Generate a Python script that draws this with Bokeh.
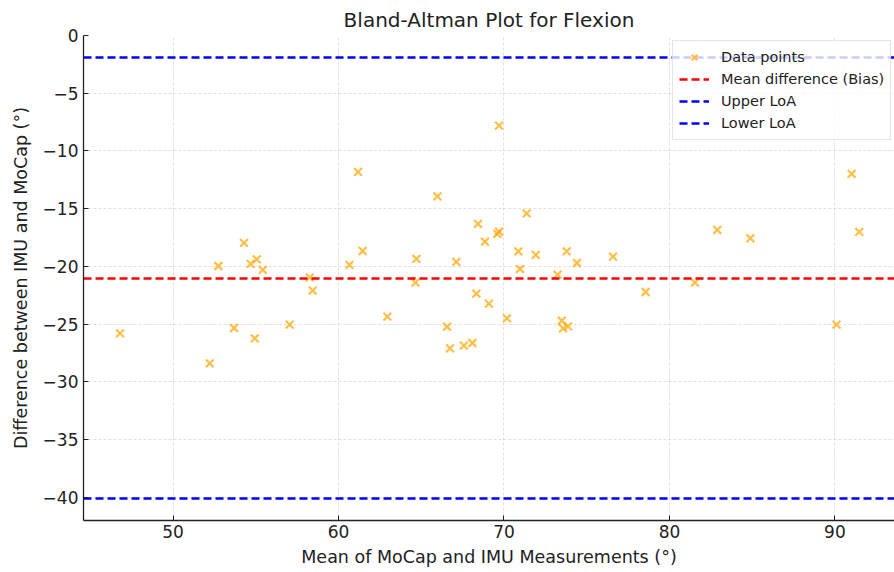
from bokeh.plotting import figure
from bokeh.models import ColumnDataSource, FixedTicker, Legend
from bokeh.core.properties import value
from bokeh.embed import file_html
from bokeh.resources import INLINE

# ---- data ----
mean_vals = [46.80, 52.22, 52.74, 53.69, 54.29, 54.69, 54.94, 55.06, 55.42, 57.05,
             58.26, 58.44, 60.66, 61.18, 61.46, 62.95, 64.71, 64.65, 65.98, 66.56,
             66.74, 67.12, 67.58, 68.09, 68.33, 68.43, 68.85, 69.09, 69.60, 69.70,
             69.70, 70.18, 70.87, 70.97, 71.37, 71.92, 73.24, 73.49, 73.57, 73.79,
             73.87, 74.41, 76.59, 78.56, 81.54, 82.89, 84.89, 90.10, 91.01, 91.47]
diff_vals = [-25.80, -28.40, -19.96, -25.33, -17.96, -19.78, -26.23, -19.38, -20.30, -25.04,
             -20.94, -22.10, -19.87, -11.81, -18.66, -24.35, -19.35, -21.40, -13.93, -25.22,
             -27.10, -19.61, -26.86, -26.63, -22.36, -16.32, -17.85, -23.22, -17.18, -16.98,
             -7.80, -24.50, -18.69, -20.22, -15.40, -19.00, -20.71, -24.70, -25.36, -18.69,
             -25.19, -19.70, -19.15, -22.21, -21.40, -16.84, -17.56, -25.04, -11.98, -17.01]
bias = -21.0
upper_loa = -1.9
lower_loa = -40.1

x_ticks = [50, 60, 70, 80, 90]
y_ticks = [0, -5, -10, -15, -20, -25, -30, -35, -40]
y_tick_labels = {t: ("0" if t == 0 else "\u2212" + str(abs(t))) for t in y_ticks}

FONT = "DejaVu Sans"
DASH = value("8 4")

p = figure(width=894, height=572, output_backend="svg", toolbar_location=None,
           x_range=(44.59, 93.6), y_range=(-42.0, 0.0),
           min_border_left=83, min_border_right=0, min_border_top=35, min_border_bottom=52,
           title="Bland-Altman Plot for Flexion")
p.outline_line_color = None
p.background_fill_color = "white"
p.border_fill_color = "white"

p.title.text_font = FONT
p.title.text_font_size = "20px"
p.title.text_font_style = "normal"
p.title.text_color = "#222222"
p.title.align = "center"
p.title.standoff = 7

src = ColumnDataSource(dict(x=mean_vals, y=diff_vals))
pts = p.scatter("x", "y", source=src, marker="x", size=11, line_width=2.2,
                line_color="orange", line_alpha=0.72)
r_bias = p.hspan(y=[bias], line_color="red", line_width=2.4, line_dash=DASH)
r_up = p.hspan(y=[upper_loa], line_color="blue", line_width=2.4, line_dash=DASH)
r_lo = p.hspan(y=[lower_loa], line_color="blue", line_width=2.4, line_dash=DASH)

legend = Legend(items=[("Data points", [pts]),
                       ("Mean difference (Bias)", [r_bias]),
                       ("Upper LoA", [r_up]),
                       ("Lower LoA", [r_lo])],
                location=(589, 380))
legend.label_text_font = FONT
legend.label_text_font_size = "14.5px"
legend.label_text_color = "#222222"
legend.glyph_width = 30
legend.glyph_height = 20
legend.label_height = 20
legend.label_standoff = 12
legend.spacing = 2
legend.padding = 6
legend.margin = 0
legend.border_line_color = "#cccccc"
legend.border_line_width = 1
legend.background_fill_alpha = 0.8
p.add_layout(legend)

for ax in (p.xaxis[0], p.yaxis[0]):
    ax.axis_line_color = "#222222"
    ax.axis_line_width = 1.3
    ax.major_tick_line_color = "#222222"
    ax.major_tick_in = 5
    ax.major_tick_out = 0
    ax.minor_tick_line_color = None
    ax.major_label_text_font = FONT
    ax.major_label_text_font_size = "17px"
    ax.major_label_text_color = "#222222"
    ax.axis_label_text_font = FONT
    ax.axis_label_text_font_size = "17.5px"
    ax.axis_label_text_font_style = "normal"
    ax.axis_label_text_color = "#222222"

p.xaxis.ticker = FixedTicker(ticks=x_ticks)
p.yaxis.ticker = FixedTicker(ticks=y_ticks)
p.yaxis.major_label_overrides = y_tick_labels
p.xaxis.axis_label = "Mean of MoCap and IMU Measurements (\u00b0)"
p.yaxis.axis_label = "Difference between IMU and MoCap (\u00b0)"
p.xaxis.major_label_standoff = 4
p.xaxis.axis_label_standoff = 6
p.yaxis.major_label_standoff = 5
p.yaxis.axis_label_standoff = 9

p.grid.grid_line_color = "#cccccc"
p.grid.grid_line_alpha = 0.6
p.grid.grid_line_dash = "3 2"
p.grid.grid_line_width = 1

open("out.html", "w").write(file_html(p, INLINE))
